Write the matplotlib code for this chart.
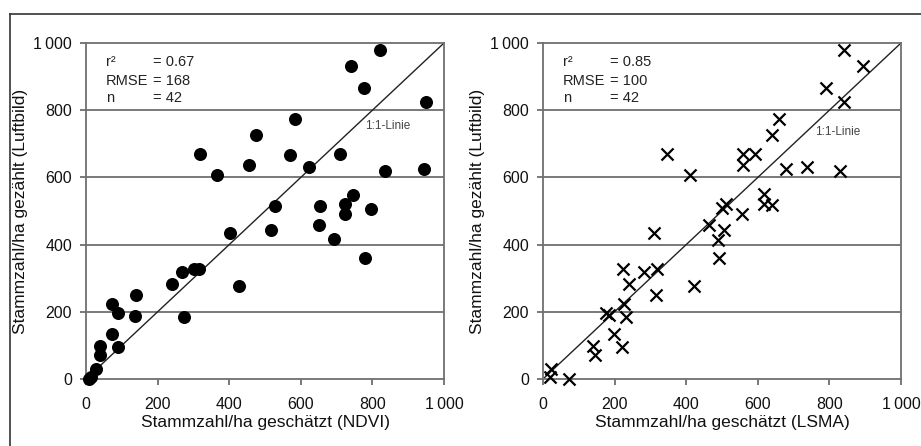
import numpy as np
import matplotlib.pyplot as plt
from matplotlib.lines import Line2D

plt.rcParams['font.family'] = ['Liberation Sans', 'DejaVu Sans']

# NDVI estimate vs. aerial photo count
ndvi_x = [820, 739, 777, 949, 584, 474, 318, 569, 709, 456, 622, 366, 943, 834,
          746, 528, 653, 723, 723, 797, 651, 516, 694, 402, 780, 302, 315, 268,
          241, 428, 141, 73, 89, 137, 273, 73, 89, 39, 39, 29, 13, 7]
ndvi_y = [980, 932, 865, 825, 774, 725, 669, 667, 669, 636, 631, 607, 626, 618,
          549, 516, 516, 522, 490, 507, 458, 442, 416, 436, 361, 326, 326, 317,
          284, 277, 251, 223, 195, 187, 185, 134, 96, 98, 71, 30, 7, 0]

# LSMA estimate vs. aerial photo count
lsma_x = [840, 894, 790, 840, 659, 641, 345, 559, 592, 559, 680, 737, 831, 412,
          616, 616, 641, 500, 512, 556, 463, 505, 311, 488, 491, 223, 283, 318,
          239, 317, 421, 176, 183, 225, 232, 198, 141, 146, 220, 22, 19, 72]
lsma_y = [980, 932, 865, 825, 774, 725, 669, 669, 669, 636, 626, 631, 618, 607,
          552, 520, 518, 508, 520, 492, 458, 443, 436, 415, 359, 328, 317, 326,
          284, 251, 278, 195, 190, 223, 185, 133, 99, 71, 96, 30, 7, 0]

ticks = [0, 200, 400, 600, 800, 1000]
tick_labels = ['0', '200', '400', '600', '800', '1\u2009000']

panels = [
    (ndvi_x, ndvi_y, 'NDVI', '0.67', '168', '42', 'o'),
    (lsma_x, lsma_y, 'LSMA', '0.85', '100', '42', 'x'),
]

fig = plt.figure(figsize=(9.21, 4.46), dpi=100)

# outer frame (only top and left visible)
fig.add_artist(Line2D([10/921, 1], [1-14/446, 1-14/446], color='#333333', lw=1.2,
                      transform=fig.transFigure))
fig.add_artist(Line2D([10/921, 10/921], [0, 1-14/446], color='#333333', lw=1.2,
                      transform=fig.transFigure))

lefts = [86/921, 543/921]
grey = '#555555'
for (x, y, name, r2, rmse, n, mk), left in zip(panels, lefts):
    ax = fig.add_axes([left, 1-379/446, 358/921, 336/446])
    for yy in [200, 400, 600, 800]:
        ax.axhline(yy, color=grey, lw=1.1, zorder=1)
    ax.plot([0, 1000], [0, 1000], color='#222222', lw=1.0, zorder=2)
    if mk == 'o':
        ax.scatter(x, y, s=70, color='black', zorder=3, clip_on=False)
    else:
        ax.scatter(x, y, s=75, marker='x', color='black', linewidths=1.6,
                   zorder=3, clip_on=False)
    ax.set_xlim(0, 1000)
    ax.set_ylim(0, 1000)
    ax.set_xticks(ticks)
    ax.set_xticklabels(tick_labels)
    ax.set_yticks(ticks)
    ax.set_yticklabels(tick_labels)
    ax.tick_params(direction='out', length=4, width=1.1, color=grey,
                   labelsize=11.5, labelcolor='#111111')
    ax.tick_params(axis='x', pad=9)
    ax.tick_params(axis='y', pad=6)
    for sp in ax.spines.values():
        sp.set_color('#707070')
        sp.set_linewidth(1.3)
    ax.set_xlabel('Stammzahl/ha geschätzt (%s)' % name, fontsize=12.5,
                  color='#111111', labelpad=2)
    ax.set_ylabel('Stammzahl/ha gezählt (Luftbild)', fontsize=12.5,
                  color='#111111', labelpad=4)

    for yy, lbl, val in zip([943, 887, 836], ['r²', 'RMSE', 'n'], [r2, rmse, n]):
        ax.text(55, yy, lbl, fontsize=10.5, va='center', ha='left', color='#222222')
        ax.text(187, yy, '= ' + val, fontsize=10.5, va='center', ha='left',
                color='#222222')
    if name == 'NDVI':
        ax.text(779, 753, '1:1-Linie', fontsize=8.5, color='#444444', va='center')
    else:
        ax.text(760, 735, '1:1-Linie', fontsize=8.5, color='#444444', va='center')

fig.savefig('out.png', dpi=100)
